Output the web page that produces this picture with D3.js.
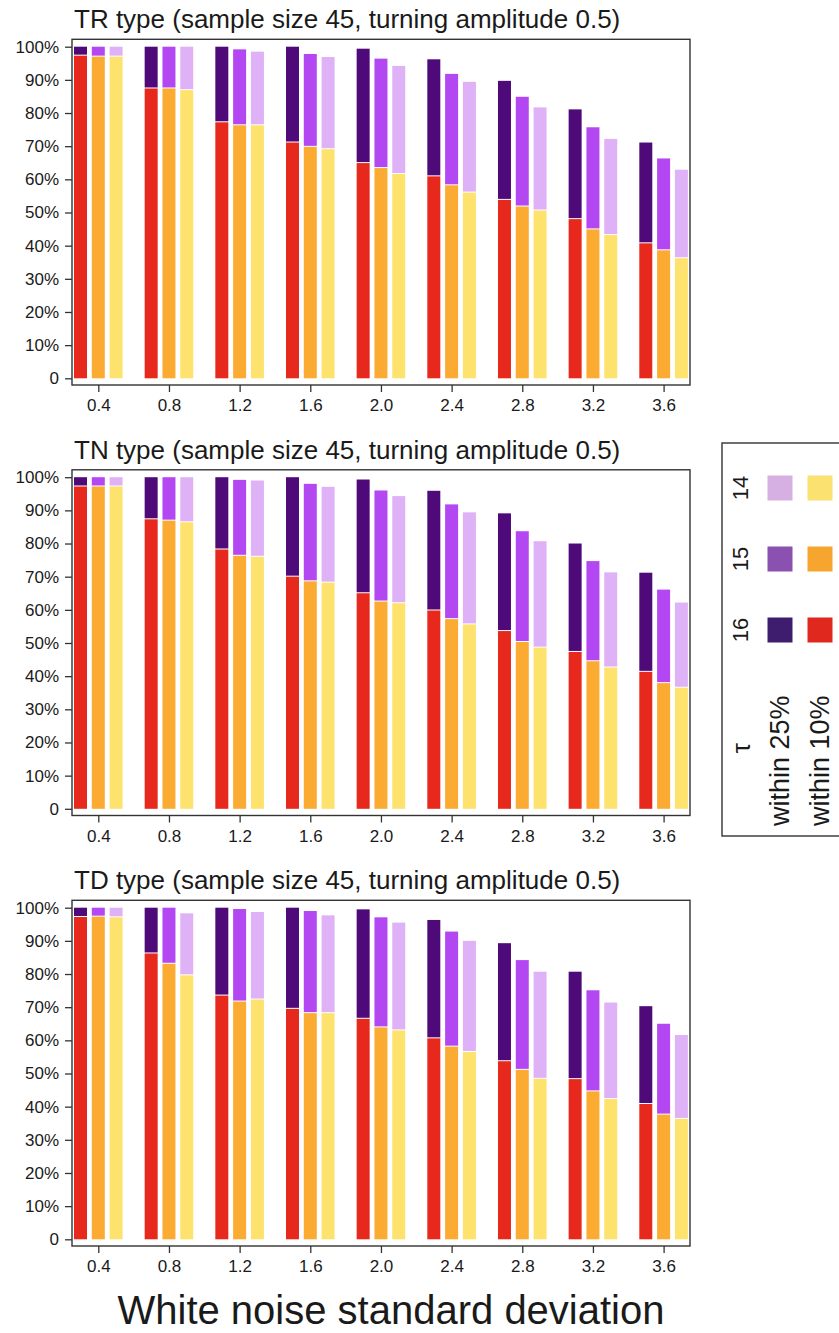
<!DOCTYPE html>
<html>
<head>
<meta charset="utf-8">
<script src="https://cdn.jsdelivr.net/npm/d3@7"></script>
<style>
  body { margin: 0; background: #fff; }
  text { font-family: "Liberation Sans", Arial, Helvetica, sans-serif; fill: #1a1a1a; }
</style>
</head>
<body>
<svg id="chart" width="839" height="1333"></svg>
<script>
// x categories and series keys
var noiseSD = [0.4, 0.8, 1.2, 1.6, 2.0, 2.4, 2.8, 3.2, 3.6];
var tauLevels = ["16", "15", "14"];
var yTicks = [0, 10, 20, 30, 40, 50, 60, 70, 80, 90, 100];
var panelTitles = [
    "TR type (sample size 45, turning amplitude 0.5)",
    "TN type (sample size 45, turning amplitude 0.5)",
    "TD type (sample size 45, turning amplitude 0.5)"
];

// TR type, % of estimates within 25% / within 10%
var trWithin25_16 = [100, 100, 100, 100, 99.4, 96.2, 89.7, 81.1, 71.1];
var trWithin25_15 = [100, 100, 99.2, 97.8, 96.4, 91.8, 84.9, 75.7, 66.3];
var trWithin25_14 = [100, 100, 98.5, 96.9, 94.2, 89.4, 81.7, 72.2, 62.9];
var trWithin10_16 = [97.3, 87.4, 77.2, 71.1, 64.9, 60.9, 53.8, 48.0, 40.7];
var trWithin10_15 = [97.0, 87.4, 76.3, 69.8, 63.4, 58.2, 51.8, 44.9, 38.6];
var trWithin10_14 = [97.0, 86.9, 76.3, 69.1, 61.6, 56.0, 50.6, 43.2, 36.2];

// TN type
var tnWithin25_16 = [100, 100, 100, 100, 99.3, 95.9, 89.1, 80.0, 71.2];
var tnWithin25_15 = [100, 100, 99.2, 98.0, 96.0, 91.8, 83.7, 74.7, 66.1];
var tnWithin25_14 = [100, 100, 99.0, 97.1, 94.3, 89.4, 80.7, 71.3, 62.2];
var tnWithin10_16 = [97.2, 87.3, 78.2, 70.0, 65.0, 59.8, 53.6, 47.3, 41.3];
var tnWithin10_15 = [97.2, 86.9, 76.3, 68.6, 62.5, 57.2, 50.3, 44.5, 37.9];
var tnWithin10_14 = [97.2, 86.4, 76.0, 68.2, 62.0, 55.6, 48.6, 42.6, 36.5];

// TD type
var tdWithin25_16 = [100, 100, 100, 100, 99.5, 96.3, 89.3, 80.7, 70.3];
var tdWithin25_15 = [100, 100, 99.6, 99.0, 97.1, 92.8, 84.2, 75.1, 65.0];
var tdWithin25_14 = [100, 98.3, 98.7, 97.7, 95.5, 90.0, 80.7, 71.4, 61.6];
var tdWithin10_16 = [97.2, 86.2, 73.5, 69.5, 66.5, 60.6, 53.7, 48.3, 40.8];
var tdWithin10_15 = [97.3, 83.1, 71.7, 68.2, 63.9, 58.1, 51.1, 44.6, 37.6];
var tdWithin10_14 = [97.1, 79.6, 72.3, 68.2, 63.0, 56.5, 48.4, 42.3, 36.3];

var panels = [
    { w25: [trWithin25_16, trWithin25_15, trWithin25_14], w10: [trWithin10_16, trWithin10_15, trWithin10_14] },
    { w25: [tnWithin25_16, tnWithin25_15, tnWithin25_14], w10: [tnWithin10_16, tnWithin10_15, tnWithin10_14] },
    { w25: [tdWithin25_16, tdWithin25_15, tdWithin25_14], w10: [tdWithin10_16, tdWithin10_15, tdWithin10_14] }
];

var col25 = d3.scaleOrdinal().domain(tauLevels).range(["#4f0a79", "#b347f2", "#dfb2f7"]);
var col10 = d3.scaleOrdinal().domain(tauLevels).range(["#e6281d", "#fbab31", "#fee26e"]);
var legend25 = d3.scaleOrdinal().domain(tauLevels).range(["#3e1d6f", "#8a51b0", "#d6b0e2"]);
var legend10 = d3.scaleOrdinal().domain(tauLevels).range(["#e0281f", "#f6a62f", "#fbe270"]);

var svg = d3.select("#chart");
var box = { left: 72, right: 690, top: 39.3, bottom: 385 };
var panelStep = 430.5;

var x = d3.scaleLinear().domain([0.4, 3.6]).range([98.3, 663.6]);
var inner = d3.scaleBand().domain(tauLevels).range([-26.7, 26.7]).paddingInner(0.27).paddingOuter(0.135);

panels.forEach(function (p, pi) {
    var g = svg.append("g").attr("transform", "translate(0," + (pi * panelStep) + ")");
    var y = d3.scaleLinear().domain([0, 100]).range([378.3, 46.7]);

    var rows = [];
    tauLevels.forEach(function (t, k) {
        noiseSD.forEach(function (s, i) {
            rows.push({ sd: s, tau: t, w25: p.w25[k][i], w10: p.w10[k][i] });
        });
    });

    var bars = g.append("g").selectAll("g").data(rows).enter().append("g")
        .attr("transform", function (d) { return "translate(" + (x(d.sd) + inner(d.tau)) + ",0)"; });

    // upper part: within 25%
    bars.append("rect")
        .attr("width", inner.bandwidth())
        .attr("y", function (d) { return y(d.w25); })
        .attr("height", function (d) { return Math.max(0, y(d.w10) - y(d.w25) - 1); })
        .attr("fill", function (d) { return col25(d.tau); });

    // lower part: within 10%
    bars.append("rect")
        .attr("width", inner.bandwidth())
        .attr("y", function (d) { return y(d.w10); })
        .attr("height", function (d) { return y(0) - y(d.w10); })
        .attr("fill", function (d) { return col10(d.tau); });

    g.append("rect")
        .attr("x", box.left).attr("y", box.top)
        .attr("width", box.right - box.left).attr("height", box.bottom - box.top)
        .attr("fill", "none").attr("stroke", "#333").attr("stroke-width", 1.4);

    var yAxis = g.append("g")
        .attr("transform", "translate(" + box.left + ",0)")
        .call(d3.axisLeft(y).tickValues(yTicks).tickSize(7).tickPadding(6)
            .tickFormat(function (d) { return d === 0 ? "0" : d + "%"; }));
    yAxis.select(".domain").remove();

    var xAxis = g.append("g")
        .attr("transform", "translate(0," + box.bottom + ")")
        .call(d3.axisBottom(x).tickValues(noiseSD).tickSize(7).tickPadding(7).tickFormat(d3.format(".1f")));
    xAxis.select(".domain").remove();

    g.selectAll(".tick line").attr("stroke", "#333").attr("stroke-width", 1.3);
    g.selectAll(".tick text").attr("font-size", 17).attr("font-family", null).attr("fill", "#1a1a1a");

    g.append("text")
        .attr("x", 74)
        .attr("y", 28.3)
        .attr("font-size", 26)
        .text(panelTitles[pi]);
});

svg.append("text")
    .attr("x", 391)
    .attr("y", 1324)
    .attr("text-anchor", "middle")
    .attr("font-size", 40)
    .text("White noise standard deviation");

// legend, drawn sideways
var lg = svg.append("g");
lg.append("rect")
    .attr("x", 722).attr("y", 443)
    .attr("width", 140).attr("height", 393)
    .attr("fill", "none").attr("stroke", "#333").attr("stroke-width", 1.4);

var rowY = d3.scalePoint().domain(["14", "15", "16"]).range([488, 630]);

lg.selectAll(".lab").data(tauLevels).enter().append("text")
    .attr("class", "lab")
    .attr("transform", function (d) { return "translate(748," + rowY(d) + ") rotate(-90)"; })
    .attr("text-anchor", "middle")
    .attr("font-size", 22)
    .text(function (d) { return d; });

lg.selectAll(".sw25").data(tauLevels).enter().append("rect")
    .attr("x", 767.5).attr("y", function (d) { return rowY(d) - 12.5; })
    .attr("width", 25).attr("height", 25)
    .attr("fill", function (d) { return legend25(d); });

lg.selectAll(".sw10").data(tauLevels).enter().append("rect")
    .attr("x", 807.5).attr("y", function (d) { return rowY(d) - 12.5; })
    .attr("width", 25).attr("height", 25)
    .attr("fill", function (d) { return legend10(d); });

lg.append("text")
    .attr("transform", "translate(750,748) rotate(-90)")
    .attr("text-anchor", "middle")
    .attr("font-size", 26)
    .text("τ");

lg.append("text")
    .attr("transform", "translate(789,826) rotate(-90)")
    .attr("font-size", 27)
    .text("within 25%");

lg.append("text")
    .attr("transform", "translate(829,826) rotate(-90)")
    .attr("font-size", 27)
    .text("within 10%");
</script>
</body>
</html>
